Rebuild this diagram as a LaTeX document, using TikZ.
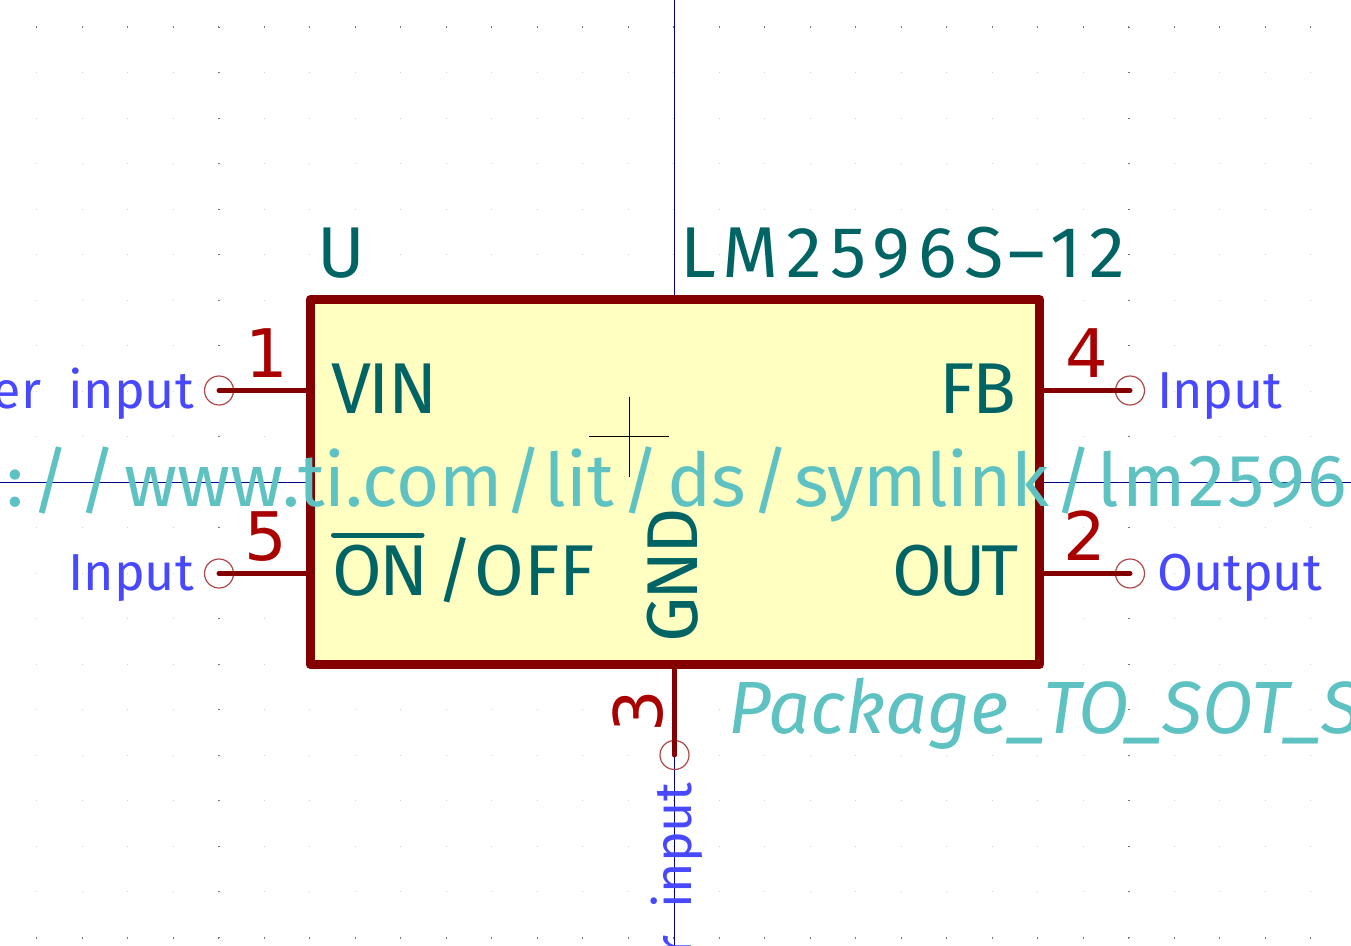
\documentclass[tikz,border=0pt]{standalone}
\usepackage{fontspec}
\setmainfont{Fira Sans}
\newfontfamily\strokefont{Fira Sans}
\newfontfamily\digitfont{DejaVu Sans}
\usetikzlibrary{calc}
\definecolor{bodyline}{RGB}{132,0,0}
\definecolor{bodyfill}{RGB}{255,255,194}
\definecolor{pinnum}{RGB}{169,0,0}
\definecolor{pinname}{RGB}{0,100,100}
\definecolor{fieldtext}{RGB}{94,194,194}
\definecolor{nettext}{RGB}{72,72,255}
\definecolor{axisline}{RGB}{0,0,132}
\definecolor{pinring}{RGB}{176,72,72}
\newcommand{\track}[1]{\addfontfeature{LetterSpace=#1}}
\newcommand{\sep}[1]{\kern#1pt/\kern#1pt}
\tikzset{
    lab/.style={inner sep=0pt,outer sep=0pt},
    namelab/.style={lab,text=pinname,font=\strokefont\fontsize{72}{80}\selectfont},
    numlab/.style={lab,text=pinnum,font=\digitfont\fontsize{67}{80}\selectfont},
    netlab/.style={lab,text=nettext,font=\strokefont\fontsize{52}{60}\selectfont},
    fieldlab/.style={lab,text=fieldtext,font=\strokefont\fontsize{74}{80}\selectfont},
    pinline/.style={draw=bodyline,line width=5pt,line cap=round},
    pinend/.style={circle,draw=pinring,line width=1.2pt,minimum size=29pt,inner sep=0pt,outer sep=0pt},
    axis/.style={draw=axisline,line width=1pt},
    hair/.style={draw=black,line width=1pt},
    body/.style={rectangle,draw=bodyline,fill=bodyfill,line width=9pt,line join=round,inner sep=0pt,outer sep=0pt,minimum width=729.5pt,minimum height=365pt}
}
\begin{document}
\begin{tikzpicture}[x=1pt,y=-1pt]
    \useasboundingbox (0,0) rectangle (1351,945);
    \clip (0,0) rectangle (1351,945);
    \fill[white] (0,0) rectangle (1351,945);
    \foreach \i in {-14,...,14} {
        \foreach \j in {-10,...,10} {
            \fill[black!18] ({673.5+45.5*\i-0.5},{482+45.5*\j-0.5}) rectangle ++(1,1);
        }
        \fill[black!55] ({673.5+45.5*\i-0.5},{27-1}) rectangle ++(1,2);
        \fill[black!55] ({673.5+45.5*\i-0.5},{937.5-1}) rectangle ++(1,2);
    }
    \foreach \j in {-10,...,10} {
        \fill[black!55] ({218.5-1},{482+45.5*\j-0.5}) rectangle ++(2,1);
        \fill[black!55] ({1128.5-1},{482+45.5*\j-0.5}) rectangle ++(2,1);
    }
    \coordinate (topend) at (674.5,0);
    \coordinate (botend) at (674.5,945);
    \coordinate (leftend) at (0,482.5);
    \coordinate (rightend) at (1351,482.5);
    \draw[axis] (topend) -- (botend);
    \draw[axis] (leftend) -- (rightend);
    \node[body] (U1) at (674.75,482) {};
    \coordinate (anchor) at (629,436.5);
    \draw[hair] ($(anchor)+(-40,0)$) -- ($(anchor)+(40,0)$);
    \draw[hair] ($(anchor)+(0,-40)$) -- ($(anchor)+(0,40)$);
    \node[pinend] (P1) at (219,390.5) {};
    \node[pinend] (P5) at (219,573.5) {};
    \node[pinend] (P4) at (1130,390.5) {};
    \node[pinend] (P2) at (1130,573.5) {};
    \node[pinend] (P3) at (674.5,755) {};
    \draw[pinline] (P1.center) -- (U1.west |- P1.center);
    \draw[pinline] (P5.center) -- (U1.west |- P5.center);
    \draw[pinline] (P4.center) -- (U1.east |- P4.center);
    \draw[pinline] (P2.center) -- (U1.east |- P2.center);
    \draw[pinline] (P3.center) -- (U1.south -| P3.center);
    \node[namelab,anchor=base west] (ref) at (317,277) {U};
    \node[namelab,anchor=base west] (val) at (680,277) {\track{10.8}LM2596S\scalebox{1.6}[1]{-}12};
    \node[namelab,anchor=base west] (vin) at (331,413) {\track{-3}VIN};
    \node[namelab,anchor=base east] (fb) at (1016,413) {\track{-3}FB};
    \node[namelab,anchor=base west] (onoff) at (332,595) {{\track{-4}ON}\kern8pt/\kern1pt OFF};
    \node[namelab,anchor=base east] (outp) at (1019,595) {\track{-6}OUT};
    \node[namelab,anchor=base west,rotate=90] (gnd) at (697,642) {\track{-5}GND};
    \coordinate (barl) at (333.5,535);
    \coordinate (barr) at (422,535);
    \draw[draw=pinname,line width=5pt,line cap=round] (barl) -- (barr);
    \node[numlab,anchor=base west] (n1) at (245,377) {1};
    \node[numlab,anchor=base west] (n5) at (244,560) {5};
    \node[numlab,anchor=base west] (n4) at (1065,377) {4};
    \node[numlab,anchor=base west] (n2) at (1063,560) {2};
    \node[numlab,anchor=base west,rotate=90] (n3) at (662,732) {3};
    \node[netlab,anchor=base east] (pwrleft) at (194,408) {er\hspace{14pt} input};
    \node[netlab,anchor=base east] (inleft) at (194,590) {Input};
    \node[netlab,anchor=base west] (inright) at (1157,408) {Input};
    \node[netlab,anchor=base west] (outright) at (1157,590) {Output};
    \node[netlab,anchor=base east,rotate=90] (pwrdown) at (691,783) {r\hspace{14pt} input};
    \node[fieldlab,anchor=base west] (url) at (6,506) {:\sep{8}/\kern8pt www.ti.com\sep{1.5}lit\sep{7.5}ds\sep{5}{\track{-0.5}symlink}\sep{5}{\track{3.6}lm2596}};
    \node[fieldlab,anchor=base west] (fprint) at (728,733) {\itshape Package\_TO\_SOT\_S};
\end{tikzpicture}
\end{document}
